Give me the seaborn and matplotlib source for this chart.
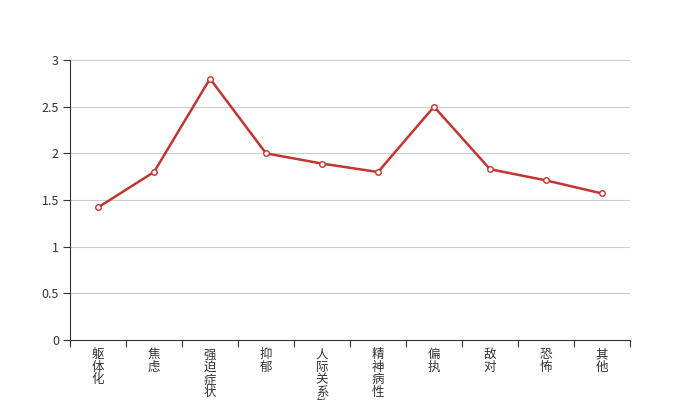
import matplotlib
matplotlib.use("Agg")
import matplotlib.pyplot as plt
import seaborn as sns
import pandas as pd
from matplotlib.ticker import FixedLocator

categories = ["躯体化", "焦虑", "强迫症状", "抑郁", "人际关系敏感", "精神病性", "偏执", "敌对", "恐怖", "其他"]
values = [1.42, 1.80, 2.80, 2.00, 1.89, 1.80, 2.50, 1.83, 1.71, 1.57]
yticks = [0, 0.5, 1, 1.5, 2, 2.5, 3]
ytick_labels = ["0", "0.5", "1", "1.5", "2", "2.5", "3"]

sns.set_theme(style="white")
plt.rcParams['font.family'] = ['Noto Sans CJK SC', 'DejaVu Sans']

df = pd.DataFrame({"cat": categories, "val": values})
fig = plt.figure(figsize=(7, 4), dpi=100)
ax = fig.add_axes([0.1, 0.15, 0.8, 0.70])

sns.lineplot(data=df, x="cat", y="val", sort=False, ax=ax, color="#c23531",
             linewidth=1.8, marker="o", markersize=4, markerfacecolor="white",
             markeredgecolor="#c23531", markeredgewidth=1.0)

n = len(categories)
ax.set_xlim(-0.5, n - 0.5)
ax.set_ylim(0, 3)
ax.set_yticks(yticks)
ax.set_yticklabels(ytick_labels)
ax.set_xticks(range(n))
ax.set_xticklabels(["\n".join(c) for c in categories], linespacing=0.95)
ax.xaxis.set_minor_locator(FixedLocator([i - 0.5 for i in range(n + 1)]))
ax.tick_params(axis="x", which="major", length=0, pad=6, labelsize=9, labelcolor="#333333")
ax.tick_params(axis="x", which="minor", length=5, width=0.8, color="#333333", direction="out", bottom=True)
ax.tick_params(axis="y", which="major", length=5, width=0.8, color="#333333", direction="out",
               left=True, labelsize=9, labelcolor="#333333", pad=3)
for lab in ax.get_xticklabels():
    lab.set_verticalalignment("top")

ax.grid(axis="y", color="#cccccc", linewidth=0.8)
ax.set_axisbelow(True)
for s in ["top", "right"]:
    ax.spines[s].set_visible(False)
for s in ["left", "bottom"]:
    ax.spines[s].set_color("#333333")
    ax.spines[s].set_linewidth(0.8)
ax.set_xlabel("")
ax.set_ylabel("")

fig.savefig("out.png", dpi=100)
